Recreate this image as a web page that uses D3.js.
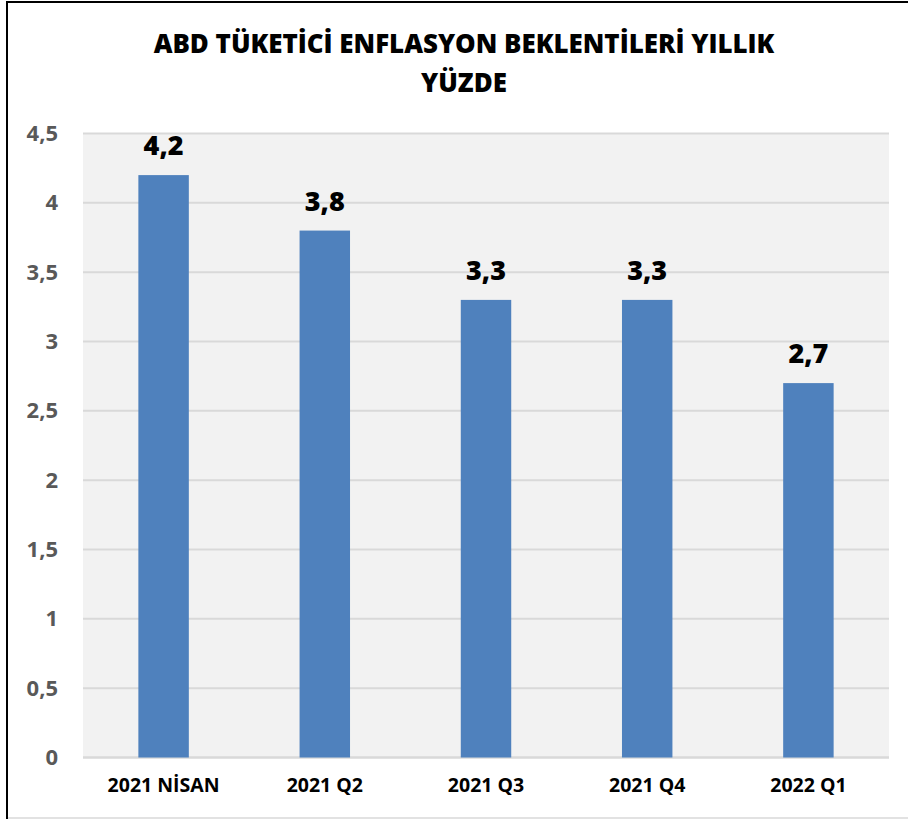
<!DOCTYPE html>
<html>
<head>
<meta charset="utf-8">
<script src="https://cdn.jsdelivr.net/npm/d3@7"></script>
<style>
  body { margin: 0; background: #fff; }
  text { font-family: "Open Sans", sans-serif; font-weight: bold; }
</style>
</head>
<body>
<div id="plot"></div>
<script>
// Data
const categories = ["2021 NİSAN", "2021 Q2", "2021 Q3", "2021 Q4", "2022 Q1"];
const values = [4.2, 3.8, 3.3, 3.3, 2.7];
const yTicks = [0, 0.5, 1, 1.5, 2, 2.5, 3, 3.5, 4, 4.5];
const titleLines = ["ABD TÜKETİCİ ENFLASYON BEKLENTİLERİ YILLIK", "YÜZDE"];

const width = 908, height = 819;
const margin = { top: 133.5, bottom: 61.5, left: 83, right: 19 };

const svg = d3.select('#plot')
  .append('svg')
  .attr('width', width)
  .attr('height', height);

// Frame lines
svg.append('line').attr('x1', 7).attr('x2', width).attr('y1', 2).attr('y2', 2)
  .attr('stroke', '#000').attr('stroke-width', 2);
svg.append('line').attr('x1', 7).attr('x2', 7).attr('y1', 1).attr('y2', height)
  .attr('stroke', '#000').attr('stroke-width', 2);
svg.append('line').attr('x1', 8).attr('x2', width).attr('y1', 818).attr('y2', 818)
  .attr('stroke', '#d9d9d9').attr('stroke-width', 1.5);

// Scales
const x = d3.scaleBand()
  .domain(categories)
  .range([margin.left, width - margin.right])
  .padding(0);

const y = d3.scaleLinear()
  .domain([0, 4.5])
  .range([height - margin.bottom, margin.top]);

const barW = x.bandwidth() * 0.313;

// Plot background
svg.append('rect')
  .attr('x', margin.left)
  .attr('y', margin.top)
  .attr('width', width - margin.left - margin.right)
  .attr('height', height - margin.top - margin.bottom)
  .attr('fill', '#f2f2f2');

// Gridlines
svg.append('g')
  .selectAll('line')
  .data(yTicks)
  .join('line')
  .attr('x1', margin.left)
  .attr('x2', width - margin.right)
  .attr('y1', d => y(d))
  .attr('y2', d => y(d))
  .attr('stroke', '#d9d9d9')
  .attr('stroke-width', d => d === 0 ? 2.5 : 2);

// Y axis labels
const yAxis = svg.append('g')
  .attr('transform', `translate(${margin.left - 25},0)`)
  .call(d3.axisLeft(y).tickValues(yTicks).tickSize(0).tickPadding(0)
    .tickFormat(d => String(d).replace('.', ',')));
yAxis.select('.domain').remove();
yAxis.selectAll('text')
  .attr('fill', '#595959')
  .style('font-family', '"Open Sans", sans-serif')
  .style('font-weight', 'bold')
  .style('font-size', '22px');

// X axis labels
const xAxis = svg.append('g')
  .attr('transform', `translate(0,${height - margin.bottom})`)
  .call(d3.axisBottom(x).tickSize(0).tickPadding(21));
xAxis.select('.domain').remove();
xAxis.selectAll('text')
  .attr('fill', '#000')
  .style('font-family', '"Open Sans", sans-serif')
  .style('font-weight', 'bold')
  .style('font-size', '19.5px');

// Bars
svg.append('g')
  .selectAll('rect')
  .data(values)
  .join('rect')
  .attr('x', (d, i) => x(categories[i]) + (x.bandwidth() - barW) / 2)
  .attr('y', d => y(d))
  .attr('width', barW)
  .attr('height', d => y(0) - y(d))
  .attr('fill', '#4f81bd');

// Value labels
svg.append('g')
  .selectAll('text')
  .data(values)
  .join('text')
  .attr('x', (d, i) => x(categories[i]) + x.bandwidth() / 2)
  .attr('y', d => y(d) - 20)
  .attr('text-anchor', 'middle')
  .style('font-size', '27px')
  .style('font-weight', '800')
  .attr('fill', '#000')
  .text(d => String(d).replace('.', ','));

// Title
svg.append('g')
  .selectAll('text')
  .data(titleLines)
  .join('text')
  .attr('x', 464)
  .attr('y', (d, i) => 53 + i * 39)
  .attr('text-anchor', 'middle')
  .style('font-size', '25.9px')
  .style('font-weight', '800')
  .attr('fill', '#000')
  .text(d => d);
</script>
</body>
</html>
